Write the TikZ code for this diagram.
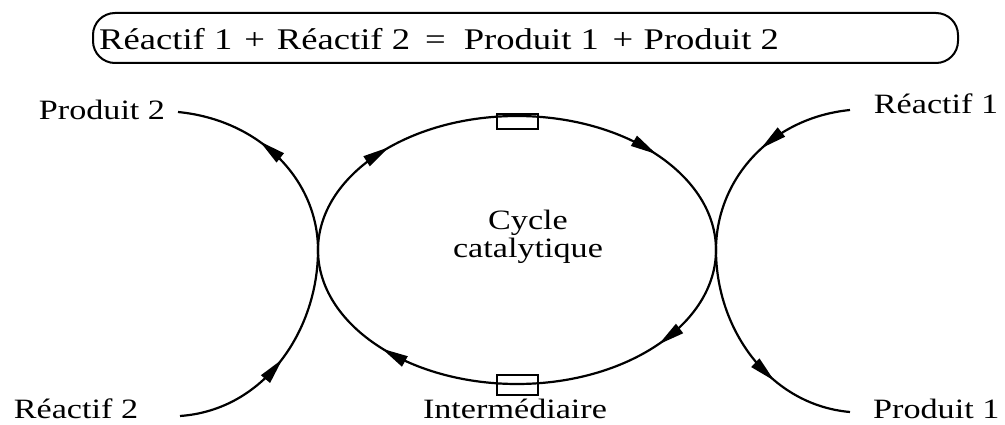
\documentclass[tikz,border=0pt]{standalone}
\usepackage{fontspec}
\setmainfont{Liberation Serif}[FakeStretch=1.22]
\usetikzlibrary{decorations.markings}
\tikzset{
  ln/.style={line width=2.2pt},
  ar/.style={postaction={decorate, decoration={markings, mark=at position #1 with {\fill (9pt,0pt) -- (-17pt,6pt) -- (-17pt,-6pt) -- cycle;}}}},
  lbl/.style={font=\fontsize{28}{28}\selectfont, inner sep=0pt, text=black},
  slot/.style={draw, line width=1.6pt, minimum width=41pt, minimum height=15pt, inner sep=0pt},
}
\begin{document}
\begin{tikzpicture}[x=1pt,y=-1pt]
\useasboundingbox (0,0) rectangle (1005,425);
% equation box
\node[draw, line width=2pt, rounded corners=22pt, minimum width=865pt, minimum height=50pt] (eqbox) at (525.5,38) {};
\node[lbl, font=\fontsize{30}{30}\selectfont, anchor=west] (eq) at (99,39)
  {Réactif 1\hspace{0.4em}+\hspace{0.4em}Réactif 2\hspace{0.5em}=\hspace{0.6em}Produit 1\hspace{0.45em}+\hspace{0.35em}Produit 2};
% cycle
\coordinate (L) at (318,250);
\coordinate (R) at (716,250);
\draw[ln, ar=0.115, ar=0.38, ar=0.60, ar=0.875] (L) arc[start angle=180, end angle=540, x radius=199, y radius=134];
\node[lbl, align=center] (cyc) at (528,237) {Cycle\\catalytique};
\node[slot] (s1) at (517.5,121.5) {};
\node[slot, minimum height=20pt] (s2) at (517.5,385) {};
\node[lbl] (int) at (515,409) {Intermédiaire};
% labels
\node[lbl] (p2) at (102,110) {Produit 2};
\node[lbl] (r2) at (76,409) {Réactif 2};
\node[lbl] (r1) at (936,104) {Réactif 1};
\node[lbl, anchor=west] (p1) at (873,409) {Produit 1};
\coordinate (p2e) at (178,112);
\coordinate (r2e) at (180,416);
\coordinate (r1e) at (850,110);
\coordinate (p1e) at (850,412);
% branches
\draw[ln, ar=0.55] (L) .. controls (318,180) and (260,120) .. (p2e);
\draw[ln, ar=0.47] (r2e) .. controls (265,410) and (318,330) .. (L);
\draw[ln, ar=0.42] (r1e) .. controls (770,118) and (716,180) .. (R);
\draw[ln, ar=0.6] (R) .. controls (716,330) and (770,405) .. (p1e);
\end{tikzpicture}
\end{document}
